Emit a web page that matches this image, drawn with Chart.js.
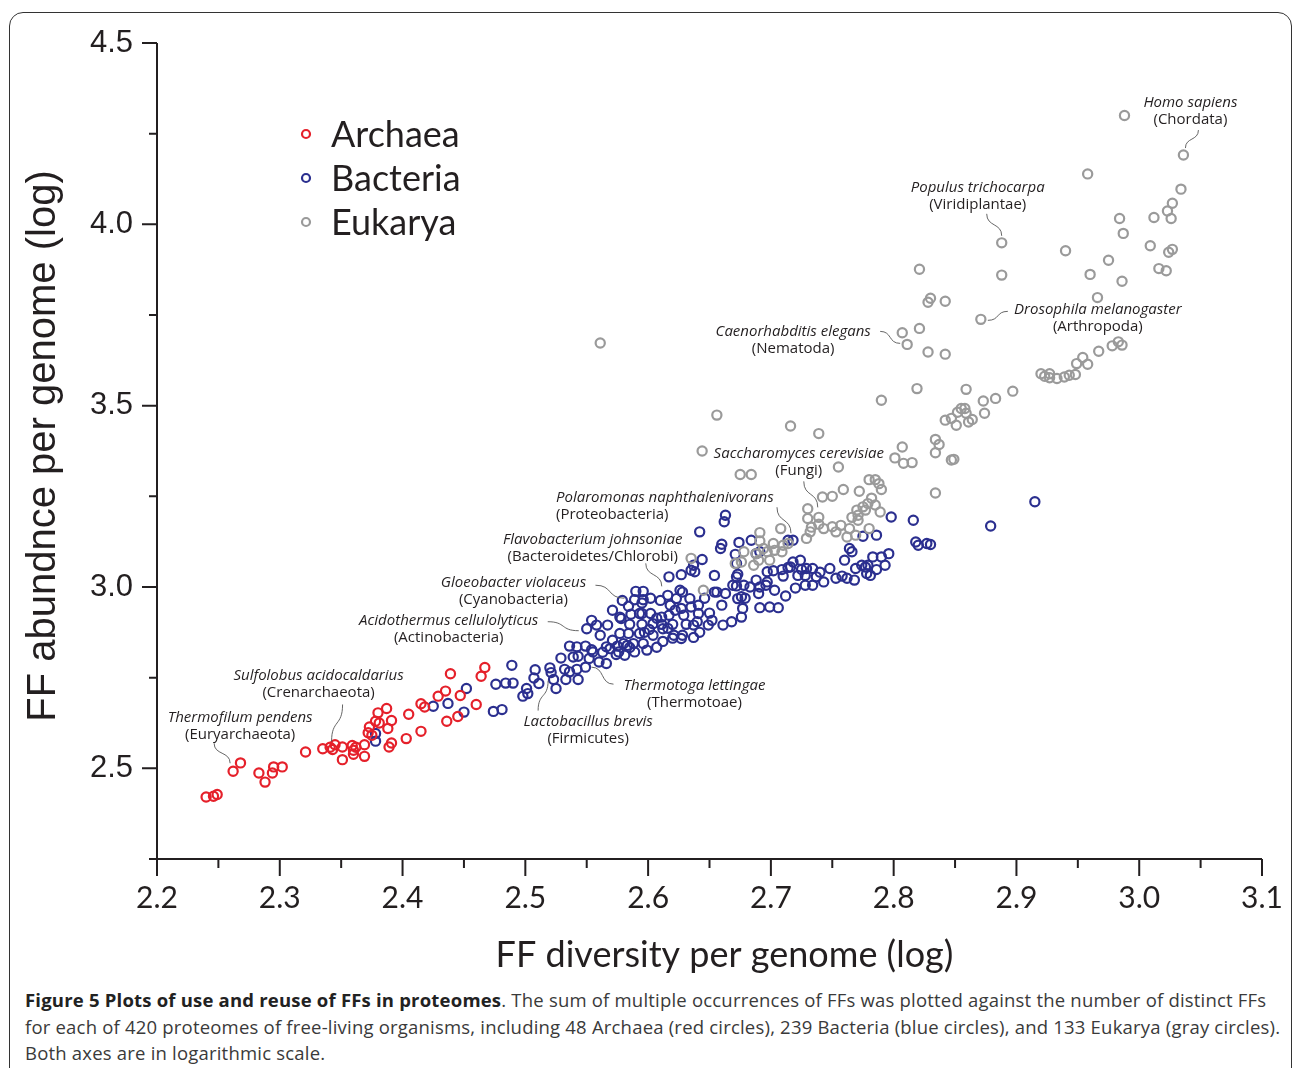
<!DOCTYPE html>
<html>
<head>
<meta charset="utf-8">
<script src="https://cdn.jsdelivr.net/npm/chart.js@4.4.0/dist/chart.umd.min.js"></script>
<style>
  html, body { margin: 0; padding: 0; background: #fff; }
  body { width: 1293px; height: 1068px; position: relative; overflow: hidden; }
  #frame { position: absolute; left: 9px; top: 12px; width: 1281px; height: 1100px;
           border: 1.5px solid #333; border-radius: 14px; }
  #wrap { position: absolute; left: 0; top: 0; width: 1293px; height: 985px; }
  #caption { position: absolute; left: 25px; top: 987px; width: 1262px;
             font-family: "Open Sans", sans-serif; font-size: 18.5px; letter-spacing: 0.2px; line-height: 26.5px;
             color: #3a3a3a; white-space: nowrap; }
  #caption b { color: #222; }
</style>
</head>
<body>
<div id="frame"></div>
<div id="wrap"><canvas id="chart" width="1293" height="985"></canvas></div>
<div id="caption"><b>Figure 5 Plots of use and reuse of FFs in proteomes</b>. The sum of multiple occurrences of FFs was plotted against the number of distinct FFs<br>for each of 420 proteomes of free-living organisms, including 48 Archaea (red circles), 239 Bacteria (blue circles), and 133 Eukarya (gray circles).<br>Both axes are in logarithmic scale.</div>
<script>
// axis ticks
const xTickValues = [2.2, 2.3, 2.4, 2.5, 2.6, 2.7, 2.8, 2.9, 3.0, 3.1];
const xTickLabels = ['2.2', '2.3', '2.4', '2.5', '2.6', '2.7', '2.8', '2.9', '3.0', '3.1'];
const xMinorTicks = [2.25, 2.35, 2.45, 2.55, 2.65, 2.75, 2.85, 2.95, 3.05];
const yTickValues = [2.5, 3.0, 3.5, 4.0, 4.5];
const yTickLabels = ['2.5', '3.0', '3.5', '4.0', '4.5'];
const yMinorTicks = [2.25, 2.75, 3.25, 3.75, 4.25];

const groupNames = ['Archaea', 'Bacteria', 'Eukarya'];

// [FF diversity, FF abundance] per proteome (log)
const archaea = [
  [2.240,2.421],[2.246,2.423],[2.249,2.428],[2.262,2.492],[2.268,2.515],[2.283,2.487],[2.288,2.462],[2.294,2.487],
  [2.295,2.504],[2.302,2.504],[2.321,2.545],[2.335,2.554],[2.343,2.552],[2.345,2.565],[2.351,2.559],[2.351,2.524],
  [2.359,2.563],[2.360,2.550],[2.360,2.539],[2.369,2.565],[2.369,2.533],[2.372,2.598],[2.373,2.614],[2.378,2.630],
  [2.380,2.653],[2.381,2.625],[2.387,2.665],[2.388,2.610],[2.391,2.632],[2.389,2.559],[2.391,2.570],[2.403,2.582],
  [2.405,2.649],[2.415,2.602],[2.415,2.678],[2.418,2.669],[2.436,2.630],[2.445,2.643],[2.460,2.676],[2.439,2.761],
  [2.467,2.778],[2.464,2.754],[2.435,2.713],[2.429,2.699],[2.447,2.701],[2.375,2.591],[2.362,2.558],[2.341,2.558]
];

const bacteria = [
  [2.378,2.596],[2.378,2.575],[2.425,2.671],[2.437,2.679],[2.450,2.655],[2.452,2.720],[2.474,2.657],[2.481,2.662],
  [2.476,2.732],[2.484,2.735],[2.490,2.735],[2.489,2.784],[2.498,2.699],[2.501,2.720],[2.502,2.706],[2.508,2.772],
  [2.507,2.749],[2.511,2.734],[2.520,2.777],[2.521,2.764],[2.525,2.720],[2.523,2.745],[2.529,2.804],[2.533,2.745],
  [2.536,2.766],[2.536,2.837],[2.543,2.745],[2.542,2.835],[2.549,2.837],[2.543,2.809],[2.549,2.779],[2.552,2.803],
  [2.555,2.821],[2.560,2.793],[2.566,2.789],[2.566,2.835],[2.574,2.814],[2.575,2.837],[2.550,2.885],[2.554,2.908],
  [2.577,2.872],[2.577,2.917],[2.583,2.839],[2.584,2.872],[2.585,2.897],[2.589,2.821],[2.588,2.844],[2.590,2.988],
  [2.596,2.988],[2.584,2.947],[2.595,2.956],[2.595,2.927],[2.595,2.897],[2.596,2.844],[2.602,2.927],[2.604,2.867],
  [2.604,2.899],[2.601,2.883],[2.611,2.917],[2.611,2.897],[2.612,2.850],[2.612,2.885],[2.620,2.897],[2.621,2.867],
  [2.617,3.028],[2.616,2.977],[2.623,2.968],[2.626,2.991],[2.627,2.941],[2.628,2.867],[2.629,2.922],[2.631,2.897],
  [2.634,2.968],[2.635,2.945],[2.637,2.895],[2.637,2.861],[2.641,2.950],[2.641,2.927],[2.649,2.895],[2.650,2.928],
  [2.654,2.986],[2.656,2.986],[2.663,2.982],[2.661,2.895],[2.668,2.904],[2.672,3.003],[2.672,3.028],[2.673,2.968],
  [2.673,3.035],[2.676,2.917],[2.677,2.941],[2.683,3.000],[2.688,3.019],[2.690,2.982],[2.691,2.943],[2.696,3.005],
  [2.697,3.042],[2.699,2.945],[2.702,3.045],[2.706,2.943],[2.710,3.030],[2.712,2.975],[2.716,3.055],[2.718,3.069],
  [2.724,3.074],[2.728,3.032],[2.734,3.051],[2.737,3.028],[2.743,3.014],[2.748,3.051],[2.758,3.030],[2.760,3.074],
  [2.762,3.024],[2.764,3.106],[2.769,3.051],[2.774,3.060],[2.779,3.060],[2.783,3.083],[2.786,3.048],[2.663,3.198],
  [2.662,3.180],[2.642,3.152],[2.660,3.118],[2.659,3.106],[2.674,3.123],[2.684,3.129],[2.688,3.092],[2.671,3.090],
  [2.672,3.065],[2.635,3.046],[2.627,3.034],[2.637,3.060],[2.718,3.129],[2.638,3.042],[2.654,3.032],[2.628,2.986],
  [2.660,2.950],[2.669,3.005],[2.622,2.936],[2.640,2.904],[2.616,2.886],[2.617,2.922],[2.589,2.965],[2.596,2.965],
  [2.593,2.927],[2.586,2.925],[2.578,2.913],[2.593,2.872],[2.620,2.859],[2.627,2.858],[2.580,2.844],[2.569,2.830],
  [2.576,2.821],[2.585,2.833],[2.532,2.773],[2.542,2.773],[2.539,2.807],[2.554,2.827],[2.691,3.097],[2.714,3.129],
  [2.709,3.048],[2.714,3.054],[2.725,3.048],[2.729,3.051],[2.722,3.032],[2.728,3.005],[2.766,3.097],[2.777,3.055],
  [2.778,3.037],[2.790,3.083],[2.796,3.092],[2.793,3.060],[2.775,3.140],[2.786,3.143],[2.798,3.193],[2.816,3.184],
  [2.818,3.124],[2.820,3.115],[2.827,3.120],[2.830,3.117],[2.915,3.235],[2.879,3.168],[2.678,3.005],[2.691,3.000],
  [2.697,3.014],[2.676,2.973],[2.644,3.076],[2.563,2.820],[2.571,2.853],[2.581,2.812],[2.599,2.826],[2.607,2.834],
  [2.597,2.875],[2.607,2.914],[2.618,2.950],[2.610,2.963],[2.602,2.969],[2.646,2.969],[2.652,2.908],[2.642,2.875],
  [2.679,2.969],[2.703,2.991],[2.720,2.997],[2.734,3.005],[2.740,3.041],[2.753,3.024],[2.768,3.019],[2.781,3.032],
  [2.561,2.867],[2.558,2.895],[2.567,2.895],[2.571,2.936],[2.579,2.963]
];

const eukarya = [
  [2.988,4.300],[3.036,4.191],[2.958,4.139],[3.034,4.097],[3.027,4.058],[3.023,4.037],[3.026,4.016],[3.012,4.019],
  [2.984,4.016],[2.987,3.975],[3.009,3.941],[3.027,3.931],[3.024,3.923],[3.016,3.878],[3.022,3.872],[2.975,3.901],
  [2.940,3.927],[2.960,3.862],[2.986,3.843],[2.966,3.798],[2.888,3.949],[2.888,3.860],[2.821,3.876],[2.830,3.796],
  [2.828,3.785],[2.842,3.788],[2.821,3.713],[2.807,3.701],[2.811,3.669],[2.828,3.648],[2.842,3.642],[2.871,3.738],
  [2.819,3.547],[2.790,3.515],[2.859,3.545],[2.873,3.513],[2.883,3.520],[2.897,3.540],[2.920,3.588],[2.927,3.588],
  [2.927,3.577],[2.939,3.579],[2.943,3.584],[2.948,3.586],[2.949,3.616],[2.954,3.633],[2.958,3.614],[2.967,3.650],
  [2.978,3.665],[2.983,3.676],[2.986,3.667],[2.858,3.492],[2.656,3.474],[2.716,3.444],[2.739,3.423],[2.644,3.375],
  [2.807,3.386],[2.801,3.356],[2.808,3.341],[2.815,3.343],[2.834,3.407],[2.837,3.393],[2.834,3.370],[2.847,3.350],
  [2.849,3.352],[2.755,3.331],[2.675,3.310],[2.684,3.310],[2.742,3.248],[2.750,3.250],[2.759,3.269],[2.772,3.264],
  [2.780,3.296],[2.785,3.296],[2.788,3.285],[2.790,3.269],[2.834,3.259],[2.730,3.216],[2.730,3.189],[2.739,3.192],
  [2.739,3.173],[2.708,3.161],[2.691,3.150],[2.691,3.127],[2.732,3.152],[2.729,3.134],[2.743,3.161],[2.750,3.166],
  [2.757,3.170],[2.764,3.161],[2.766,3.192],[2.771,3.198],[2.777,3.212],[2.779,3.230],[2.785,3.226],[2.789,3.207],
  [2.771,3.184],[2.780,3.161],[2.762,3.138],[2.769,3.143],[2.847,3.465],[2.851,3.446],[2.855,3.492],[2.859,3.479],
  [2.861,3.455],[2.864,3.462],[2.874,3.479],[2.775,3.221],[2.770,3.212],[2.678,3.097],[2.676,3.069],[2.671,3.065],
  [2.688,3.092],[2.686,3.060],[2.690,3.074],[2.697,3.097],[2.699,3.074],[2.703,3.101],[2.709,3.097],[2.710,3.115],
  [2.714,3.120],[2.645,2.991],[2.635,3.079],[2.753,3.152],[2.561,3.673],[2.694,3.106],[2.702,3.120],[2.923,3.581],
  [2.933,3.575],[2.842,3.460],[2.852,3.482],[2.782,3.245],[2.733,3.165]
];

// labelled organisms: the point they refer to, then text placement (px offsets from that point)
const callouts = [
  { name: 'Homo sapiens', phylum: '(Chordata)', at: [3.036, 4.191], dx: 7, dy: [-52, -35], align: 'center', lead: [15, -25, 2, -7], dir: 'v' },
  { name: 'Populus trichocarpa', phylum: '(Viridiplantae)', at: [2.888, 3.949], dx: -24, dy: [-55, -38], align: 'center', lead: [-15, -29, 0, -7], dir: 'v' },
  { name: 'Drosophila melanogaster', phylum: '(Arthropoda)', at: [2.871, 3.738], dx: 117, dy: [-10, 7], align: 'center', lead: [27, -8, 7, 1], dir: 'h' },
  { name: 'Caenorhabditis elegans', phylum: '(Nematoda)', at: [2.811, 3.669], dx: -114, dy: [-13, 4], align: 'center', lead: [-27, -13, -7, -1], dir: 'h' },
  { name: 'Saccharomyces cerevisiae', phylum: '(Fungi)', at: [2.739, 3.192], dx: -20, dy: [-64, -47], align: 'center', lead: [-15, -36, -1, -10], dir: 'v' },
  { name: 'Polaromonas naphthalenivorans', phylum: '(Proteobacteria)', at: [2.718, 3.129], dx: -237, dy: [-42, -25], align: 'left', lead: [-16, -33, -2, -7], dir: 'v' },
  { name: 'Flavobacterium johnsoniae', phylum: '(Bacteroidetes/Chlorobi)', at: [2.616, 2.977], dx: -75, dy: [-56, -39], align: 'center', lead: [-22, -32, -6, -9], dir: 'v' },
  { name: 'Gloeobacter violaceus', phylum: '(Cyanobacteria)', at: [2.584, 2.947], dx: -115, dy: [-23, -6], align: 'center', lead: [-33, -21, -4, -8], dir: 'h' },
  { name: 'Acidothermus cellulolyticus', phylum: '(Actinobacteria)', at: [2.550, 2.885], dx: -138, dy: [-8, 9], align: 'center', lead: [-39, -7, -8, 2], dir: 'h' },
  { name: 'Sulfolobus acidocaldarius', phylum: '(Crenarchaeota)', at: [2.343, 2.552], dx: -14, dy: [-74, -57], align: 'center', lead: [10, -45, -1, -8], dir: 'v' },
  { name: 'Thermofilum pendens', phylum: '(Euryarchaeota)', at: [2.262, 2.492], dx: 7, dy: [-54, -37], align: 'center', lead: [-19, -28, -3, -8], dir: 'v' },
  { name: 'Thermotoga lettingae', phylum: '(Thermotoae)', at: [2.549, 2.779], dx: 109, dy: [19, 36], align: 'center', lead: [28, 17, 6, 0], dir: 'h' },
  { name: 'Lactobacillus brevis', phylum: '(Firmicutes)', at: [2.521, 2.764], dx: 37, dy: [49, 66], align: 'center', lead: [-13, 38, -3, 8], dir: 'v' }
];

const ink = '#231f20';

const overlay = {
  id: 'overlay',
  afterDraw(chart) {
    const { ctx, chartArea: a, scales: { x, y } } = chart;
    ctx.save();

    // axes and ticks
    ctx.strokeStyle = ink;
    ctx.lineWidth = 2;
    ctx.beginPath();
    ctx.moveTo(a.left, a.top);
    ctx.lineTo(a.left, a.bottom);
    ctx.moveTo(a.left, a.bottom);
    ctx.lineTo(a.right, a.bottom);
    yTickValues.forEach(v => { const p = y.getPixelForValue(v); ctx.moveTo(a.left - 15, p); ctx.lineTo(a.left, p); });
    yMinorTicks.forEach(v => { const p = y.getPixelForValue(v); ctx.moveTo(a.left - 8, p); ctx.lineTo(a.left, p); });
    xTickValues.forEach(v => { const p = x.getPixelForValue(v); ctx.moveTo(p, a.bottom); ctx.lineTo(p, a.bottom + 17); });
    xMinorTicks.forEach(v => { const p = x.getPixelForValue(v); ctx.moveTo(p, a.bottom); ctx.lineTo(p, a.bottom + 9); });
    ctx.stroke();

    // axis titles
    ctx.fillStyle = ink;
    ctx.textAlign = 'center';
    ctx.textBaseline = 'middle';
    ctx.font = '36px Lato';
    ctx.fillText('FF diversity per genome (log)', (a.left + a.right) / 2 + 15, a.bottom + 96);
    ctx.save();
    ctx.translate(44, (a.top + a.bottom) / 2 - 5);
    ctx.rotate(-Math.PI / 2);
    ctx.font = '40px "Liberation Sans"';
    ctx.fillText('FF abundnce per genome (log)', 0, 0);
    ctx.restore();

    // legend
    chart.data.datasets.forEach((ds, i) => {
      const ly = 134 + i * 44;
      ctx.beginPath();
      ctx.arc(306, ly, 4, 0, Math.PI * 2);
      ctx.strokeStyle = ds.borderColor;
      ctx.lineWidth = 2.2;
      ctx.stroke();
      ctx.fillStyle = ink;
      ctx.textAlign = 'left';
      ctx.textBaseline = 'alphabetic';
      ctx.font = '36px Lato';
      ctx.fillText(ds.label, 331, ly + 13);
    });

    // callouts
    callouts.forEach(c => {
      const px = x.getPixelForValue(c.at[0]);
      const py = y.getPixelForValue(c.at[1]);
      ctx.fillStyle = ink;
      ctx.textAlign = c.align;
      ctx.textBaseline = 'middle';
      ctx.font = 'italic 15px "Open Sans"';
      ctx.fillText(c.name, px + c.dx, py + c.dy[0]);
      ctx.font = '15px "Open Sans"';
      ctx.fillText(c.phylum, px + c.dx, py + c.dy[1]);

      const sx = px + c.lead[0], sy = py + c.lead[1];
      const ex = px + c.lead[2], ey = py + c.lead[3];
      ctx.beginPath();
      ctx.moveTo(sx, sy);
      if (c.dir === 'v') {
        const k = (ey - sy) * 0.6;
        ctx.bezierCurveTo(sx, sy + k, ex, ey - k, ex, ey);
      } else {
        const k = (ex - sx) * 0.6;
        ctx.bezierCurveTo(sx + k, sy, ex - k, ey, ex, ey);
      }
      ctx.strokeStyle = '#555';
      ctx.lineWidth = 0.9;
      ctx.stroke();
    });

    ctx.restore();
  }
};

const toPoints = arr => arr.map(p => ({ x: p[0], y: p[1] }));

new Chart(document.getElementById('chart'), {
  type: 'scatter',
  data: {
    datasets: [
      { label: groupNames[0], data: toPoints(archaea), borderColor: '#e5202a', order: 1 },
      { label: groupNames[1], data: toPoints(bacteria), borderColor: '#2b2f8f', order: 2 },
      { label: groupNames[2], data: toPoints(eukarya), borderColor: '#9a9a9a', order: 0 }
    ]
  },
  options: {
    responsive: false,
    devicePixelRatio: 1,
    animation: false,
    events: [],
    layout: { padding: { top: 43, right: 31, left: 0, bottom: 0 } },
    elements: {
      point: { radius: 4.6, borderWidth: 2.2, backgroundColor: 'rgba(0,0,0,0)', pointStyle: 'circle' }
    },
    plugins: { legend: { display: false }, tooltip: { enabled: false } },
    scales: {
      x: {
        type: 'linear', min: 2.2, max: 3.1,
        afterBuildTicks: s => { s.ticks = xTickValues.map(v => ({ value: v })); },
        afterFit: s => { s.height = 126; },
        ticks: { callback: (v, i) => xTickLabels[i], font: { family: 'Lato', size: 30 }, color: ink,
                 padding: 4, maxRotation: 0, autoSkip: false },
        grid: { drawOnChartArea: false, drawTicks: true, tickLength: 17, color: 'rgba(0,0,0,0)' },
        border: { display: false }
      },
      y: {
        type: 'linear', min: 2.25, max: 4.5,
        afterBuildTicks: s => { s.ticks = yTickValues.map(v => ({ value: v })); },
        afterFit: s => { s.width = 157; },
        ticks: { callback: (v, i) => yTickLabels[i], font: { family: 'Liberation Sans', size: 31 }, color: ink,
                 padding: 9, autoSkip: false },
        grid: { drawOnChartArea: false, drawTicks: true, tickLength: 15, color: 'rgba(0,0,0,0)' },
        border: { display: false }
      }
    }
  },
  plugins: [overlay]
});
</script>
</body>
</html>
